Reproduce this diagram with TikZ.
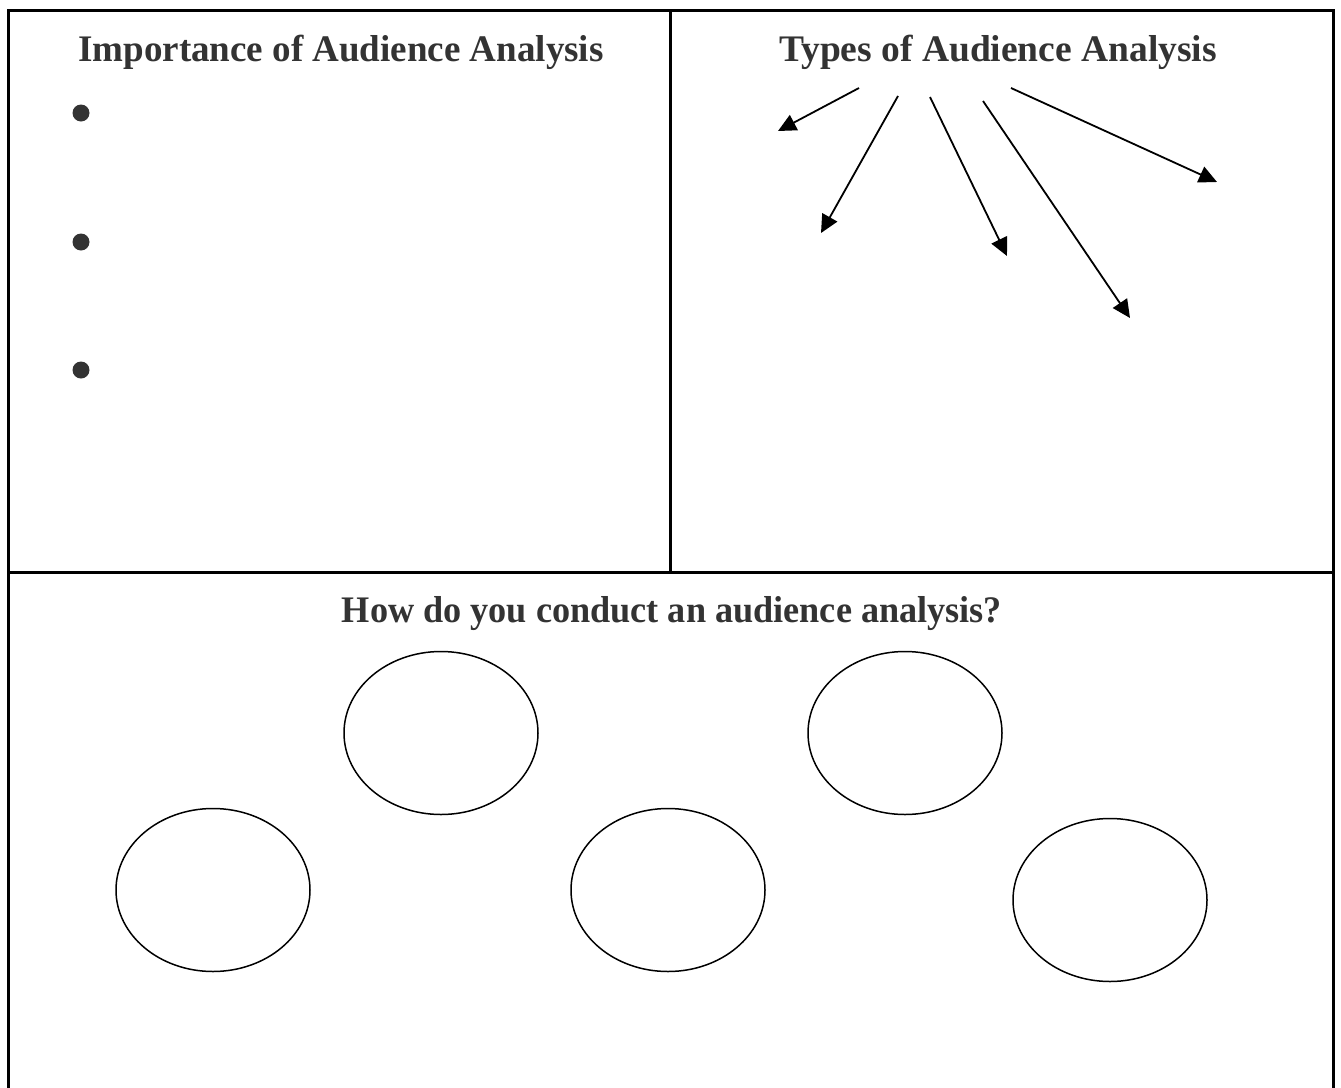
\documentclass[tikz,border=0pt]{standalone}
\usepackage{fontspec}
\setmainfont{Liberation Serif}
\usetikzlibrary{arrows.meta,shapes.geometric}
\definecolor{txtgray}{HTML}{333333}
\begin{document}
\begin{tikzpicture}[x=1pt,y=-1pt,
  frame/.style={line width=3pt,line cap=rect},
  title/.style={anchor=base,text=txtgray,inner sep=0pt,font=\fontsize{37.5}{44}\selectfont\bfseries},
  bulletdot/.style={circle,fill=txtgray,minimum size=17pt,inner sep=0pt},
  oval/.style={ellipse,draw,line width=1.5pt,minimum width=194pt,minimum height=163pt,inner sep=0pt},
  arr/.style={line width=1.8pt,-{Triangle[length=18pt,width=17pt]}}]
\useasboundingbox (0,0) rectangle (1341,1087);
\fill[white] (0,0) rectangle (1341,1087);
% frame
\coordinate (tl) at (8,10);
\coordinate (tr) at (1333,10);
\coordinate (bl) at (8,1090);
\coordinate (br) at (1333,1090);
\coordinate (mt) at (670.5,10);
\coordinate (mb) at (670.5,572);
\coordinate (ml) at (8,572);
\coordinate (mr) at (1333,572);
\draw[frame] (bl) -- (tl) -- (tr) -- (br);
\draw[frame] (mt) -- (mb);
\draw[frame] (ml) -- (mr);
% titles
\node[title,xscale=0.987] (t1) at (341,61) {Importance of Audience Analysis};
\node[title] (t2) at (998,61) {Types of Audience Analysis};
\node[title,xscale=0.966] (t3) at (672,622) {How do you conduct an audience analysis?};
% bullets
\node[bulletdot] (b1) at (81,113) {};
\node[bulletdot] (b2) at (81,242) {};
\node[bulletdot] (b3) at (81,370) {};
% arrows
\coordinate (s1) at (859,88);   \coordinate (e1) at (778,131);
\coordinate (s2) at (898,96);   \coordinate (e2) at (821,233);
\coordinate (s3) at (930,97);   \coordinate (e3) at (1007,256);
\coordinate (s4) at (983,101);  \coordinate (e4) at (1130,318);
\coordinate (s5) at (1011,88);  \coordinate (e5) at (1217,182);
\draw[arr] (s1) -- (e1);
\draw[arr] (s2) -- (e2);
\draw[arr] (s3) -- (e3);
\draw[arr] (s4) -- (e4);
\draw[arr] (s5) -- (e5);
% ovals
\node[oval] (o1) at (441,733) {};
\node[oval] (o2) at (905,733) {};
\node[oval] (o3) at (213,890) {};
\node[oval] (o4) at (668,890) {};
\node[oval] (o5) at (1110,900) {};
\end{tikzpicture}
\end{document}
